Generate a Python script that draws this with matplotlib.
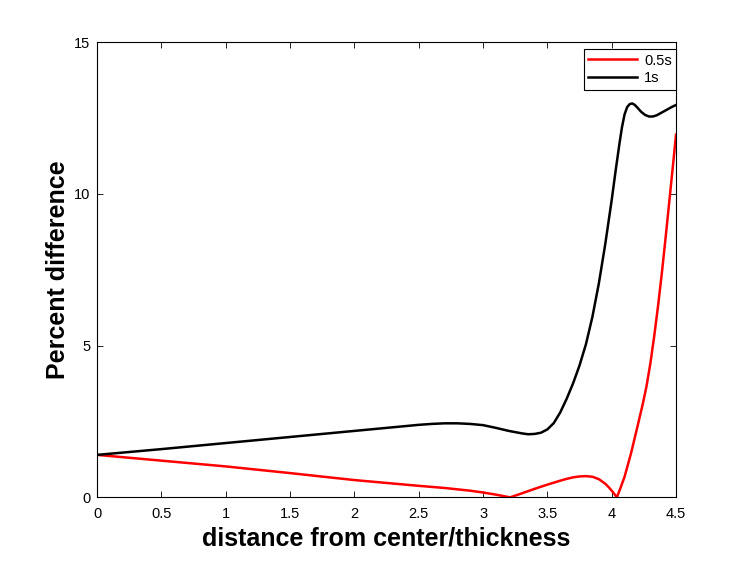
import matplotlib
matplotlib.use("Agg")
import matplotlib.pyplot as plt

plt.rcParams['font.family'] = ['Liberation Sans', 'DejaVu Sans']

# 0.5s series (red)
x_half = [0.0, 0.5, 1.0, 1.5, 2.0, 2.5, 2.7, 2.9, 3.0, 3.1, 3.21,
          3.3, 3.4, 3.5, 3.6, 3.65, 3.7, 3.75, 3.8, 3.85, 3.9, 3.95, 3.98, 4.01, 4.04,
          4.07, 4.10, 4.15, 4.20, 4.24, 4.27, 4.30, 4.33, 4.36,
          4.39, 4.42, 4.45, 4.48, 4.5]
y_half = [1.40, 1.21, 1.02, 0.80, 0.57, 0.38, 0.31, 0.22, 0.16, 0.09, 0.0,
          0.13, 0.28, 0.42, 0.55, 0.61, 0.66, 0.69, 0.70, 0.68, 0.60, 0.45, 0.32, 0.17, 0.0,
          0.33, 0.68, 1.45, 2.33, 3.05, 3.65, 4.40, 5.30, 6.30,
          7.40, 8.60, 9.85, 11.10, 11.95]

# 1s series (black)
x_one = [0.0, 0.5, 1.0, 1.5, 2.0, 2.3, 2.5, 2.6, 2.7, 2.8, 2.9, 3.0, 3.1, 3.2,
         3.3, 3.35, 3.4, 3.45, 3.5, 3.55, 3.6, 3.65, 3.7, 3.75, 3.8, 3.85,
         3.9, 3.95, 4.0, 4.03, 4.06, 4.08, 4.10, 4.12, 4.14, 4.16, 4.18, 4.20,
         4.23, 4.26, 4.29, 4.32, 4.35, 4.38, 4.41, 4.44, 4.47, 4.5]
y_one = [1.40, 1.59, 1.79, 1.99, 2.19, 2.31, 2.39, 2.42, 2.44, 2.44, 2.42, 2.38, 2.29, 2.19,
         2.11, 2.08, 2.09, 2.13, 2.24, 2.45, 2.80, 3.25, 3.76, 4.35, 5.05, 5.95,
         7.05, 8.35, 9.80, 10.75, 11.65, 12.20, 12.62, 12.86, 12.96, 12.98, 12.93, 12.84,
         12.70, 12.60, 12.55, 12.55, 12.59, 12.66, 12.73, 12.80, 12.87, 12.93]

labels = ['0.5s', '1s']
x_ticks = [0, 0.5, 1, 1.5, 2, 2.5, 3, 3.5, 4, 4.5]
x_tick_labels = ['0', '0.5', '1', '1.5', '2', '2.5', '3', '3.5', '4', '4.5']
y_ticks = [0, 5, 10, 15]

fig = plt.figure(figsize=(7.47, 5.62), dpi=100)
ax = fig.add_axes([0.13, 0.115, 0.775, 0.81])

ax.plot(x_half, y_half, color='#ff0000', linewidth=1.8, label=labels[0])
ax.plot(x_one, y_one, color='black', linewidth=1.8, label=labels[1])

ax.set_xlim(0, 4.5)
ax.set_ylim(0, 15)
ax.set_xticks(x_ticks)
ax.set_xticklabels(x_tick_labels)
ax.set_yticks(y_ticks)
ax.tick_params(direction='in', top=True, right=True, length=4, width=0.6,
               labelsize=10.5)
ax.tick_params(axis='x', pad=7)
ax.tick_params(axis='y', pad=5)
for s in ax.spines.values():
    s.set_linewidth(0.8)

ax.set_xlabel('distance from center/thickness', fontsize=18, fontweight='bold', labelpad=4)
ax.set_ylabel('Percent difference', fontsize=18, fontweight='bold', labelpad=3)

leg = ax.legend(loc='upper right', bbox_to_anchor=(1.0, 1 - 7/456), borderaxespad=0,
                fontsize=10.5, handlelength=3.3, fancybox=False, framealpha=1,
                edgecolor='black', borderpad=0.3, labelspacing=0.25, handletextpad=0.5)
leg.get_frame().set_linewidth(0.8)

fig.savefig('out.png', dpi=100)
